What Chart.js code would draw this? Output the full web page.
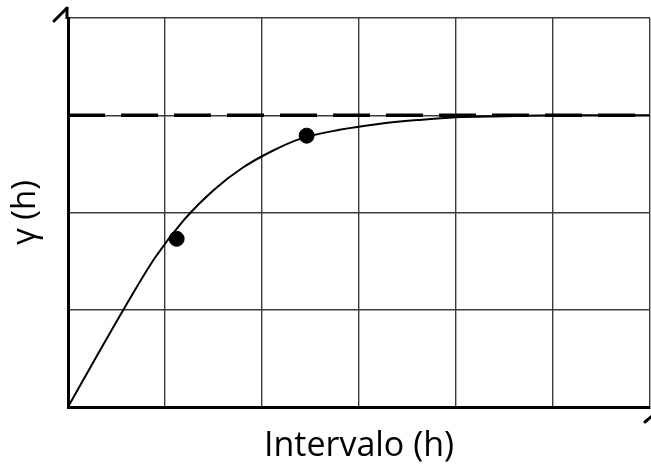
<!DOCTYPE html>
<html>
<head>
<meta charset="utf-8">
<script src="https://cdn.jsdelivr.net/npm/chart.js@4"></script>
<style>
  html, body { margin: 0; padding: 0; background: #fff; }
  #wrap { width: 651px; height: 470px; }
</style>
</head>
<body>
<div id="wrap"><canvas id="vario" width="651" height="470"></canvas></div>
<script>
// ── Data ─────────────────────────────────────────────
const curveX = [0, 0.3, 0.6, 0.9, 1.2, 1.5, 1.8, 2.1, 2.4, 2.8, 3.2, 3.6, 4.0, 4.5, 5.0, 6.0];
const curveY = [0, 0.53, 1.05, 1.54, 1.93, 2.23, 2.46, 2.63, 2.76, 2.85, 2.91, 2.95, 2.98, 2.99, 3.0, 3.0];
const sampleX = [1.12, 2.46];
const sampleY = [1.73, 2.79];
const sillX = [0, 6];
const sillY = [3, 3];
const xTitle = 'Intervalo (h)';
const yTitle = 'γ (h)';

const toPoints = (xs, ys) => xs.map((x, i) => ({ x, y: ys[i] }));

// small arrow barbs at the ends of the axes
const axisArrows = {
    id: 'axisArrows',
    afterDraw(chart) {
        const { ctx, chartArea: a } = chart;
        ctx.save();
        ctx.strokeStyle = '#000';
        ctx.lineWidth = 3;
        ctx.lineCap = 'butt';
        ctx.beginPath();
        ctx.moveTo(a.left - 1, a.top + 1);
        ctx.lineTo(a.left - 1, a.top - 11);
        ctx.stroke();
        ctx.lineCap = 'round';
        ctx.beginPath();
        ctx.moveTo(a.left - 14, a.top + 3);
        ctx.lineTo(a.left - 1, a.top - 10);
        ctx.stroke();
        ctx.beginPath();
        ctx.moveTo(a.right + 2, a.bottom + 9);
        ctx.lineTo(a.right - 5, a.bottom + 15);
        ctx.stroke();
        ctx.restore();
    }
};

new Chart(document.getElementById('vario'), {
    type: 'scatter',
    data: {
        datasets: [
            {
                label: 'sill',
                data: toPoints(sillX, sillY),
                showLine: true,
                borderColor: '#000',
                borderWidth: 3.5,
                borderDash: [37, 16],
                pointRadius: 0
            },
            {
                label: 'model',
                data: toPoints(curveX, curveY),
                showLine: true,
                borderColor: '#000',
                borderWidth: 2,
                cubicInterpolationMode: 'monotone',
                pointRadius: 0
            },
            {
                label: 'samples',
                data: toPoints(sampleX, sampleY),
                showLine: false,
                pointRadius: 7.5,
                pointBackgroundColor: '#000',
                pointBorderColor: '#000'
            }
        ]
    },
    options: {
        responsive: false,
        animation: false,
        layout: { autoPadding: false, padding: { top: 18, right: 1, left: 0, bottom: 0 } },
        plugins: { legend: { display: false }, tooltip: { enabled: false } },
        scales: {
            x: {
                type: 'linear', min: 0, max: 6,
                ticks: { display: false, stepSize: 1 },
                grid: { color: '#3c3c3c', lineWidth: 1.4, drawTicks: false },
                border: { color: '#000', width: 3 },
                title: {
                    display: true, text: xTitle, color: '#000',
                    font: { family: 'Open Sans', size: 34 },
                    padding: { top: 0, bottom: 3 }
                },
                afterFit: s => { s.height = 63; }
            },
            y: {
                type: 'linear', min: 0, max: 4,
                ticks: { display: false, stepSize: 1 },
                grid: { color: '#3c3c3c', lineWidth: 1.4, drawTicks: false },
                border: { color: '#000', width: 3 },
                title: {
                    display: true, text: yTitle, color: '#000',
                    font: { family: 'Open Sans', size: 33 },
                    padding: { top: 6, bottom: 0 }
                },
                afterFit: s => { s.width = 68; }
            }
        }
    },
    plugins: [axisArrows]
});
</script>
</body>
</html>
